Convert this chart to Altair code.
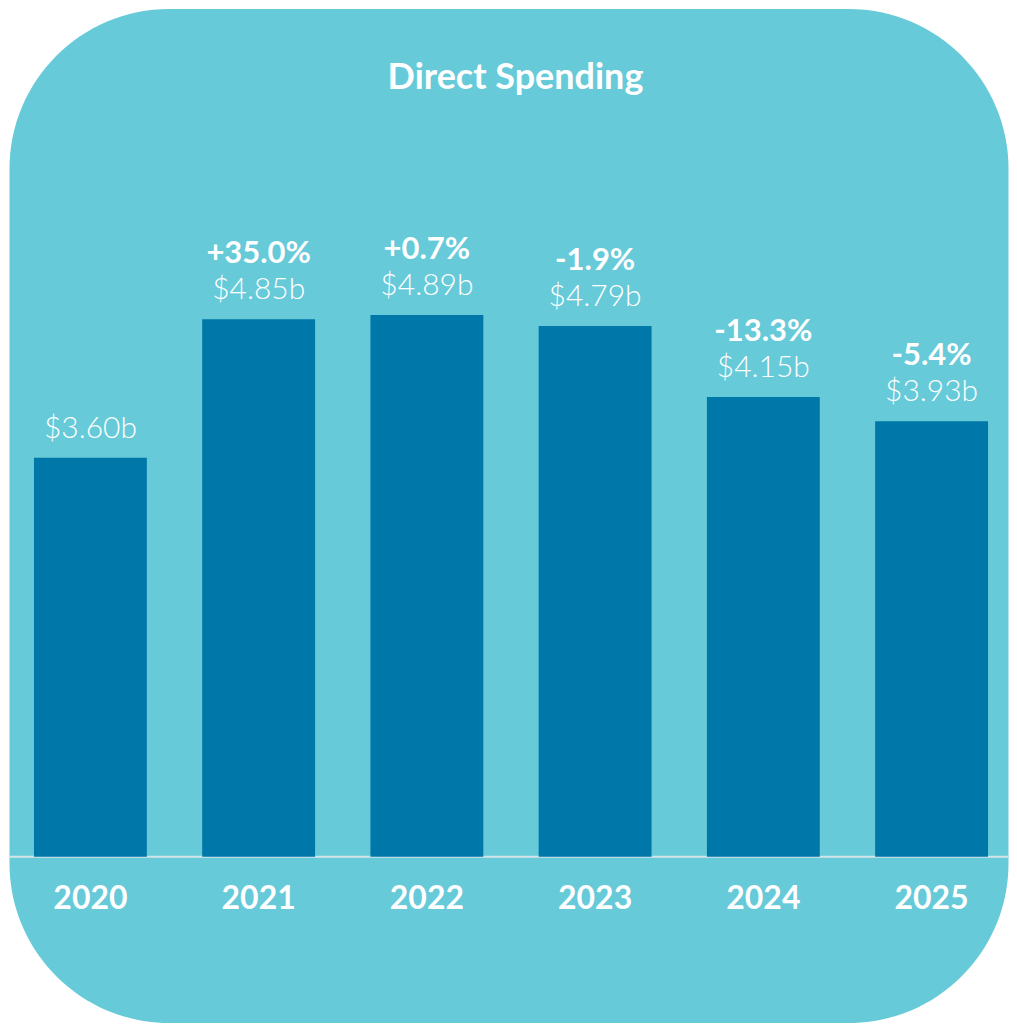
import altair as alt
import pandas as pd

title_text = "Direct Spending"
years = ["2020", "2021", "2022", "2023", "2024", "2025"]
values = [3.60, 4.85, 4.89, 4.79, 4.15, 3.93]
value_labels = ["$3.60b", "$4.85b", "$4.89b", "$4.79b", "$4.15b", "$3.93b"]
pct_labels = ["", "+35.0%", "+0.7%", "-1.9%", "-13.3%", "-5.4%"]

BG = "#66CAD9"
BAR = "#0077A9"
FONT = "Lato"

df = pd.DataFrame({"year": years, "value": values, "vlab": value_labels, "plab": pct_labels})

x = alt.X("year:N", axis=None,
          scale=alt.Scale(range=[25, 980], paddingInner=0.329, paddingOuter=0))
y = alt.Y("value:Q", axis=None,
          scale=alt.Scale(domain=[0, 5], range=[849, 294.5]))

base = alt.Chart(df)

bars = base.mark_bar(color=BAR).encode(x=x, y=y)

vlab = base.mark_text(color="white", font=FONT, fontSize=30, fontWeight=300,
                      baseline="alphabetic", dy=-20).encode(x=x, y=y, text="vlab:N")
plab = base.mark_text(color="white", font=FONT, fontSize=31, fontWeight="bold",
                      baseline="alphabetic", dy=-56).encode(x=x, y=y, text="plab:N")
ylab = base.mark_text(color="white", font=FONT, fontSize=32, fontWeight="bold",
                      baseline="alphabetic").encode(x=x, y=alt.value(901), text="year:N")

rule = alt.Chart(pd.DataFrame({"a": [0]})).mark_rule(color="#D3E5E9", strokeWidth=2).encode(
    x=alt.value(0), x2=alt.value(1000), y=alt.value(849))

title = alt.Chart(pd.DataFrame({"t": [title_text]})).mark_text(
    color="white", font=FONT, fontSize=36, fontWeight="bold", baseline="alphabetic"
).encode(x=alt.value(507), y=alt.value(81), text="t:N")

chart = alt.layer(rule, bars, vlab, plab, ylab, title).properties(
    width=1000, height=1015, padding=0, background="white"
).configure_view(fill=BG, cornerRadius=160, stroke="transparent")

chart.save("out.html", embed_options={"renderer": "svg", "actions": False})
